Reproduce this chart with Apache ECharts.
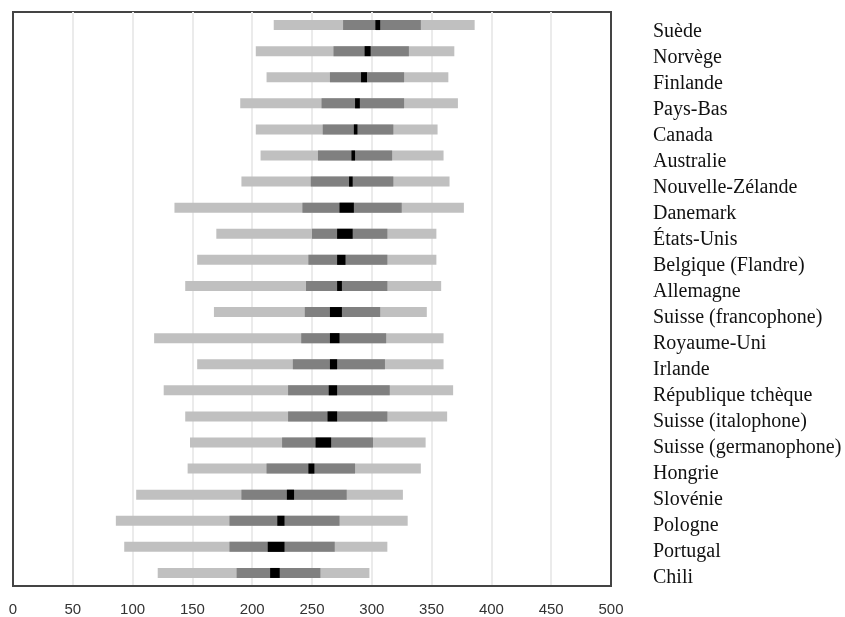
<!DOCTYPE html>
<html>
<head>
<meta charset="utf-8">
<script src="https://cdn.jsdelivr.net/npm/echarts@6/dist/echarts.min.js"></script>
<style>html,body{margin:0;padding:0;background:#fff;}#c{width:845px;height:617px;}</style>
</head>
<body>
<div id="c"></div>
<script>
const categories = ["Suède","Norvège","Finlande","Pays-Bas","Canada","Australie","Nouvelle-Zélande","Danemark","États-Unis","Belgique (Flandre)","Allemagne","Suisse (francophone)","Royaume-Uni","Irlande","République tchèque","Suisse (italophone)","Suisse (germanophone)","Hongrie","Slovénie","Pologne","Portugal","Chili"];
const p5     = [218,203,212,190,203,207,191,135,170,154,144,168,118,154,126,144,148,146,103, 86, 93,121];
const p25    = [276,268,265,258,259,255,249,242,250,247,245,244,241,234,230,230,225,212,191,181,181,187];
const ciLow  = [303,294,291,286,285,283,281,273,271,271,271,265,265,265,264,263,253,247,229,221,213,215];
const ciHigh = [307,299,296,290,288,286,284,285,284,278,275,275,273,271,271,271,266,252,235,227,227,223];
const p75    = [341,331,327,327,318,317,318,325,313,313,313,307,312,311,315,313,301,286,279,273,269,257];
const p95    = [386,369,364,372,355,360,365,377,354,354,358,346,360,360,368,363,345,341,326,330,313,298];
const xTicks = [0,50,100,150,200,250,300,350,400,450,500];

const diff = (a,b) => a.map((v,i) => +(v - b[i]).toFixed(2));
const clear = {color:'rgba(0,0,0,0)'};
const bw = 10;
function bar(name, stack, data, style){
  return {name, type:'bar', stack, data, barWidth:bw, barGap:'-100%', itemStyle:style, silent:true, xAxisIndex:0, yAxisIndex:0};
}
const chart = echarts.init(document.getElementById('c'), null, {renderer:'canvas'});
chart.setOption({
  animation:false,
  backgroundColor:'#fff',
  grid:[
    {left:13, top:12, width:598, height:576, show:true, borderColor:'#444', borderWidth:2, backgroundColor:'transparent'},
    {left:600, top:19, width:12, height:572}
  ],
  xAxis:[
    {type:'value', gridIndex:0, min:xTicks[0], max:xTicks[xTicks.length-1], interval:50,
     axisLine:{show:true, lineStyle:{color:'#444', width:2}}, axisTick:{show:false},
     splitLine:{show:true, showMinLine:false, showMaxLine:false, lineStyle:{color:'#ebebeb', width:2}},
     axisLabel:{margin:16, fontFamily:'Liberation Sans', fontSize:15, color:'#333',
       formatter:v => xTicks.includes(v) ? String(v) : ''}},
    {type:'value', gridIndex:1, show:false}
  ],
  yAxis:[
    {type:'category', gridIndex:0, data:categories, inverse:true, axisLine:{show:true, lineStyle:{color:'#444', width:2}}, axisTick:{show:false}, axisLabel:{show:false}, splitLine:{show:false}},
    {type:'category', gridIndex:1, data:categories, inverse:true, position:'right', axisLine:{show:false}, axisTick:{show:false}, splitLine:{show:false},
     axisLabel:{interval:0, margin:41, fontFamily:'Liberation Serif', fontSize:20, color:'#111', align:'left'}}
  ],
  series:[
    bar('b5','a',p5,clear),
    bar('p5-p95','a',diff(p95,p5),{color:'#c0c0c0'}),
    bar('b25','b',p25,clear),
    bar('p25-p75','b',diff(p75,p25),{color:'#808080'}),
    bar('bci','c',ciLow,clear),
    bar('ci','c',diff(ciHigh,ciLow),{color:'#000'})
  ]
});
</script>
</body>
</html>
